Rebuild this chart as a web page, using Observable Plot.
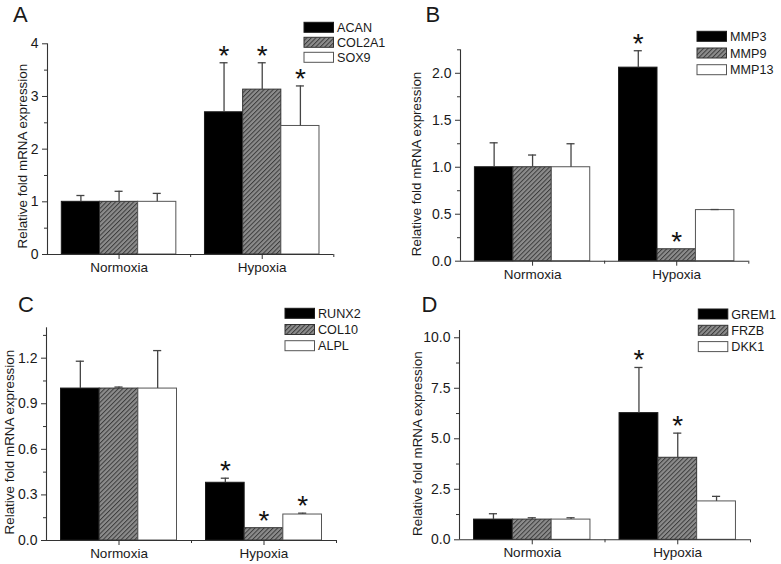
<!DOCTYPE html>
<html><head><meta charset="utf-8">
<script src="https://cdn.jsdelivr.net/npm/d3@7"></script>
<script src="https://cdn.jsdelivr.net/npm/@observablehq/plot@0.6"></script>
<style>
body{margin:0;background:#fff;}
#fig{position:relative;width:781px;height:564px;overflow:hidden;background:#fff;font-family:"Liberation Sans",Arial,sans-serif;}
.panel{position:absolute;}
.panel svg{display:block;}
#overlay{position:absolute;left:0;top:0;pointer-events:none;}
</style></head><body><div id="fig"></div>
<script>
// ---------------- data ----------------
const groups = ["Normoxia", "Hypoxia"];

const genesA = ["ACAN", "COL2A1", "SOX9"];
const normA = [1.00, 1.00, 1.00];
const normErrA = [0.12, 0.20, 0.16];
const hypA = [2.70, 3.13, 2.44];
const hypErrA = [0.94, 0.51, 0.76];
const starA = [true, true, true];
const ticksA = [0, 1, 2, 3, 4];

const genesB = ["MMP3", "MMP9", "MMP13"];
const normB = [1.00, 1.00, 1.00];
const normErrB = [0.26, 0.13, 0.25];
const hypB = [2.06, 0.127, 0.544];
const hypErrB = [0.18, 0.0, 0.006];
const starB = [true, true, false];
const ticksB = [0, 0.5, 1.0, 1.5, 2.0];

const genesC = ["RUNX2", "COL10", "ALPL"];
const normC = [1.00, 1.00, 1.00];
const normErrC = [0.18, 0.01, 0.25];
const hypC = [0.38, 0.081, 0.171];
const hypErrC = [0.03, 0.0, 0.009];
const starC = [true, true, true];
const ticksC = [0, 0.3, 0.6, 0.9, 1.2];

const genesD = ["GREM1", "FRZB", "DKK1"];
const normD = [1.00, 1.00, 1.00];
const normErrD = [0.29, 0.09, 0.09];
const hypD = [6.27, 4.06, 1.90];
const hypErrD = [2.26, 1.22, 0.25];
const starD = [true, true, false];
const ticksD = [0, 2.5, 5.0, 7.5, 10.0];

const yLabel = "Relative fold mRNA expression";

// ---------------- style / layout ----------------
const FONT = '"Liberation Sans", Arial, sans-serif';
const fills = ["#000000", "url(#hatch)", "#ffffff"];
const strokes = ["#1a1a1a", "#333333", "#555555"];
const ink = "#1a1a1a";
const axisColor = "#333333";

const fig = d3.select("#fig");

// pattern defs
const defsSvg = fig.append("svg").attr("width", 0).attr("height", 0).style("position", "absolute");
const pat = defsSvg.append("defs").append("pattern")
  .attr("id", "hatch").attr("patternUnits", "userSpaceOnUse")
  .attr("width", 3.2).attr("height", 3.2).attr("patternTransform", "rotate(45)");
pat.append("rect").attr("width", 3.2).attr("height", 3.2).attr("fill", "#8c8c8c");
pat.append("line").attr("x1", 0.5).attr("y1", 0).attr("x2", 0.5).attr("y2", 3.2)
  .attr("stroke", "#3c3c3c").attr("stroke-width", 1.0);

function panel(d, L) {
  const rows = [];
  const bw = 0.8 / 3;
  d.genes.forEach((gene, si) => {
    groups.forEach((grp, gi) => {
      const value = gi === 0 ? d.norm[si] : d.hyp[si];
      const err = gi === 0 ? d.normErr[si] : d.hypErr[si];
      const x1 = gi + 1 - 0.4 + si * bw;
      rows.push({gene, si, grp, gi, value, err, top: value + err, x1, x2: x1 + bw, xc: x1 + bw / 2,
                 star: gi === 1 && d.star[si]});
    });
  });
  const minors = d3.range(0, L.yMax + 1e-9, L.minorStep)
    .filter(v => !d.ticks.some(m => Math.abs(m - v) < 1e-9));
  const cap = 0.028;
  const marks = [];
  [0, 1, 2].forEach(i => {
    marks.push(Plot.rectY(rows.filter(r => r.si === i), {
      x1: "x1", x2: "x2", y1: 0, y2: "value", fill: fills[i], stroke: strokes[i], strokeWidth: 1
    }));
  });
  marks.push(
    Plot.ruleX(rows.filter(r => r.err > 0), {x: "xc", y1: "value", y2: "top", stroke: "#444", strokeWidth: 1.3}),
    Plot.ruleY(rows.filter(r => r.err > 0), {y: "top", x1: r => r.xc - cap, x2: r => r.xc + cap, stroke: "#444", strokeWidth: 1.3}),
    Plot.text(rows.filter(r => r.star), {x: "xc", y: "top", text: () => "*", fontSize: 28, dy: L.starDy, fill: "#111"}),
    Plot.ruleX([0.5], {stroke: axisColor, strokeWidth: 1.1}),
    Plot.ruleY([0], {stroke: axisColor, strokeWidth: 1.1}),
    Plot.axisY({ticks: d.ticks, tickFormat: L.fmt, tickSize: 5, tickPadding: 4, fontSize: 14, stroke: axisColor, fill: ink, label: null}),
    Plot.axisY({ticks: minors, tickFormat: () => "", tickSize: 3, stroke: axisColor, label: null}),
    Plot.axisX({ticks: [1, 2], tickFormat: v => groups[Math.round(v) - 1], tickSize: 5, tickPadding: 3, fontSize: 13.5, stroke: axisColor, fill: ink, label: null}),
    Plot.axisX({ticks: [1.5, 2.5], tickFormat: () => "", tickSize: 3, stroke: axisColor, label: null}),
    Plot.text([yLabel], {frameAnchor: "left", textAnchor: "middle", lineAnchor: "middle", rotate: -90, dx: L.labelDx, dy: L.labelDy, fontSize: 13.4, fill: ink})
  );
  const chart = Plot.plot({
    width: L.width, height: L.height,
    marginLeft: L.mL, marginRight: L.mR, marginTop: L.mT, marginBottom: L.mB,
    style: {fontFamily: FONT, fontSize: "13px", background: "none", overflow: "visible", color: ink},
    x: {type: "linear", domain: [0.5, 2.5]},
    y: {type: "linear", domain: [0, L.yMax]},
    marks
  });
  fig.append("div").attr("class", "panel")
    .style("left", L.left + "px").style("top", L.top + "px")
    .node().appendChild(chart);
}

panel({genes: genesA, norm: normA, normErr: normErrA, hyp: hypA, hypErr: hypErrA, star: starA, ticks: ticksA},
      {left: 0, top: 0, width: 390, height: 280, mL: 47, mR: 56.7, mT: 43.3, mB: 26, yMax: 4, minorStep: 0.5,
       fmt: d3.format("d"), labelDx: -25, labelDy: 7, starDy: -7});
panel({genes: genesB, norm: normB, normErr: normErrB, hyp: hypB, hypErr: hypErrB, star: starB, ticks: ticksB},
      {left: 390, top: 0, width: 391, height: 280, mL: 70, mR: 32.7, mT: 49.3, mB: 19.3, yMax: 2.25, minorStep: 0.25,
       fmt: d3.format(".1f"), labelDx: -43.5, labelDy: 8.5, starDy: -7});
panel({genes: genesC, norm: normC, normErr: normErrC, hyp: hypC, hypErr: hypErrC, star: starC, ticks: ticksC},
      {left: 0, top: 280, width: 390, height: 284, mL: 46, mR: 54, mT: 47.3, mB: 24, yMax: 1.4, minorStep: 0.15,
       fmt: d3.format(".1f"), labelDx: -37, labelDy: 8, starDy: -7});
panel({genes: genesD, norm: normD, normErr: normErrD, hyp: hypD, hypErr: hypErrD, star: starD, ticks: ticksD},
      {left: 390, top: 280, width: 391, height: 284, mL: 69, mR: 31, mT: 50, mB: 24.7, yMax: 10.36, minorStep: 1.25,
       fmt: d3.format(".1f"), labelDx: -42, labelDy: 8.5, starDy: -7});

// ---------------- overlay: panel letters + legends ----------------
const ov = fig.append("svg").attr("id", "overlay").attr("width", 781).attr("height", 564)
  .style("font-family", FONT);
const letters = [
  {t: "A", x: 13, y: 21.7}, {t: "B", x: 425.5, y: 22.3},
  {t: "C", x: 18, y: 311.7}, {t: "D", x: 421.6, y: 311.7}
];
letters.forEach(l => ov.append("text").attr("x", l.x).attr("y", l.y).attr("font-size", 22).attr("fill", ink).text(l.t));

const legends = [
  {genes: genesA, x: 304, y: 22.3, dy: 15},
  {genes: genesB, x: 697, y: 31.3, dy: 16.7},
  {genes: genesC, x: 285, y: 308.3, dy: 16.2},
  {genes: genesD, x: 698.3, y: 309, dy: 16.3}
];
legends.forEach(lg => {
  lg.genes.forEach((g, i) => {
    const y = lg.y + i * lg.dy;
    ov.append("rect").attr("x", lg.x).attr("y", y).attr("width", 29.5).attr("height", 10)
      .attr("fill", fills[i]).attr("stroke", strokes[i]).attr("stroke-width", 1);
    ov.append("text").attr("x", lg.x + 33).attr("y", y + 9.6).attr("font-size", 12.6).attr("fill", ink).text(g);
  });
});
</script></body></html>
